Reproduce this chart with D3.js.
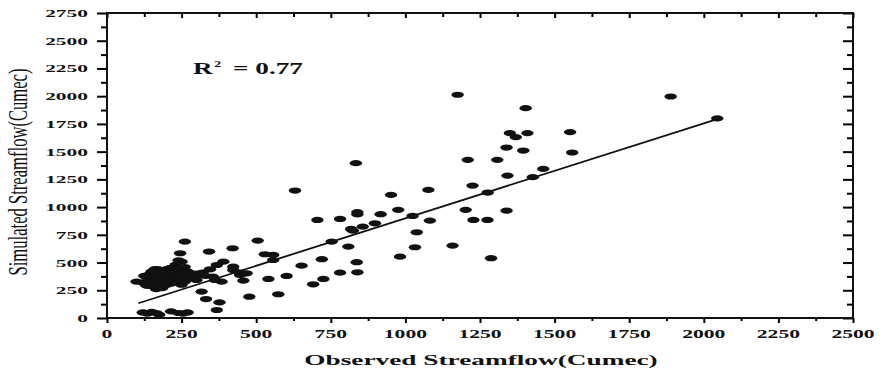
<!DOCTYPE html>
<html>
<head>
<meta charset="utf-8">
<script src="https://cdn.jsdelivr.net/npm/d3@7"></script>
<style>
  body { margin: 0; background: #fff; }
  svg { display: block; }
</style>
</head>
<body>
<div id="container"></div>
<script>
let w = 884;
let h = 373;

// observed (x) and simulated (y) streamflow
let observed = [
  1175, 1889, 2045, 1403, 1350, 1370, 1409, 1552, 1339, 1395, 1559, 1209, 1308, 1462, 1342,
  1427, 1225, 1276, 1077, 1202, 1339, 1228, 1275, 1082, 1158, 1287, 834, 630, 952, 976,
  705, 781, 839, 839, 917, 818, 824, 857, 898, 1024, 1038, 1032, 982, 505, 753,
  809, 529, 557, 557, 720, 652, 837, 541, 602, 725, 781, 839, 691, 477, 574,
  261, 421, 245, 342, 250, 390, 368, 345, 423, 446, 457, 446, 468, 384, 423,
  317, 332, 377, 368, 261, 300, 312, 355, 362, 99, 280, 295, 320, 330, 270,
  130, 140, 150, 160, 170, 180, 190, 200, 215, 230, 240, 150, 160, 170, 180,
  190, 200, 210, 220, 230, 240, 250, 175, 195, 205, 215, 230, 245, 255, 165,
  185, 120, 135, 145, 155, 170, 125,
  140, 150, 160, 165, 175, 185, 195, 205, 210, 225, 235, 145, 155, 165, 185,
  195, 200, 220, 240, 255, 260, 265, 135,
  120, 135, 150, 165, 175, 215, 240, 255, 270
];
let simulated = [
  2013, 1997, 1800, 1892, 1667, 1631, 1667, 1676, 1537, 1510, 1492, 1426, 1426, 1345, 1284,
  1270, 1194, 1131, 1155, 975, 968, 884, 884, 878, 653, 539, 1396, 1149, 1110, 975,
  884, 893, 955, 935, 936, 803, 788, 824, 854, 920, 773, 638, 553, 698, 689,
  644, 575, 569, 523, 530, 472, 503, 352, 379, 352, 409, 412, 304, 192, 214,
  689, 629, 584, 599, 508, 508, 478, 439, 433, 388, 337, 410, 403, 328, 463,
  238, 171, 141, 72, 328, 343, 388, 373, 343, 328, 360, 400, 410, 380, 420,
  300, 330, 350, 380, 400, 420, 430, 440, 450, 480, 520, 290, 310, 330, 350,
  370, 390, 380, 360, 340, 320, 300, 290, 300, 330, 310, 395, 410, 370, 260,
  270, 320, 360, 400, 420, 440, 380,
  380, 420, 440, 400, 370, 390, 410, 420, 450, 430, 460, 310, 330, 350, 330,
  350, 300, 330, 370, 430, 460, 400, 290,
  50, 40, 55, 45, 30, 60, 45, 40, 50
];

// fitted line: sim = slope * obs + intercept
let fitSlope = 0.856;
let fitIntercept = 43;
let fitRange = [105, 2045];
let r2Label = '0.77';

let xTicks = d3.range(0, 2501, 250);
let yTicks = d3.range(0, 2751, 250);
let xMinor = d3.range(125, 2500, 250);
let yMinor = d3.range(125, 2750, 250);

let points = observed.map((d, i) => ({ obs: d, sim: simulated[i] }));

let x = d3.scaleLinear().domain([0, 2500]).range([107, 853]);
let y = d3.scaleLinear().domain([0, 2750]).range([318, 13]);

let viz = d3.select('#container').append('svg')
    .attr('width', w)
    .attr('height', h)
;

// bottom ticks (outward)
viz.append('g')
    .attr('transform', 'translate(0,318)')
    .call(d3.axisBottom(x).tickValues(xTicks).tickSizeInner(5).tickSizeOuter(0).tickFormat(''))
    .call(g => g.select('.domain').remove())
    .selectAll('line').attr('stroke-width', 2);
viz.append('g')
    .attr('transform', 'translate(0,318)')
    .call(d3.axisBottom(x).tickValues(xMinor).tickSizeInner(3).tickSizeOuter(0).tickFormat(''))
    .call(g => g.select('.domain').remove())
    .selectAll('line').attr('stroke-width', 2);

// top ticks (inward)
viz.append('g')
    .attr('transform', 'translate(0,13)')
    .call(d3.axisBottom(x).tickValues(xTicks).tickSizeInner(5).tickSizeOuter(0).tickFormat(''))
    .call(g => g.select('.domain').remove())
    .selectAll('line').attr('stroke-width', 2);
viz.append('g')
    .attr('transform', 'translate(0,13)')
    .call(d3.axisBottom(x).tickValues(xMinor).tickSizeInner(4).tickSizeOuter(0).tickFormat(''))
    .call(g => g.select('.domain').remove())
    .selectAll('line').attr('stroke-width', 2);

// left ticks (outward)
viz.append('g')
    .attr('transform', 'translate(107,0)')
    .call(d3.axisLeft(y).tickValues(yTicks).tickSizeInner(10).tickSizeOuter(0).tickFormat(''))
    .call(g => g.select('.domain').remove())
    .selectAll('line').attr('stroke-width', 2);
viz.append('g')
    .attr('transform', 'translate(107,0)')
    .call(d3.axisLeft(y).tickValues(yMinor).tickSizeInner(6).tickSizeOuter(0).tickFormat(''))
    .call(g => g.select('.domain').remove())
    .selectAll('line').attr('stroke-width', 2);

// right ticks (inward)
viz.append('g')
    .attr('transform', 'translate(853,0)')
    .call(d3.axisRight(y).tickValues(yTicks).tickSizeInner(-10).tickSizeOuter(0).tickFormat(''))
    .call(g => g.select('.domain').remove())
    .selectAll('line').attr('stroke-width', 2);
viz.append('g')
    .attr('transform', 'translate(853,0)')
    .call(d3.axisRight(y).tickValues(yMinor).tickSizeInner(-6).tickSizeOuter(0).tickFormat(''))
    .call(g => g.select('.domain').remove())
    .selectAll('line').attr('stroke-width', 2);

// frame
viz.append('rect')
    .attr('x', x(0))
    .attr('y', y(2750))
    .attr('width', x(2500) - x(0))
    .attr('height', y(0) - y(2750))
    .attr('fill', 'none')
    .attr('stroke', '#111')
    .attr('stroke-width', 2)

// tick labels (the picture is stretched sideways)
viz.append('g').selectAll('text')
    .data(xTicks)
    .join('text')
    .text(d => d)
    .attr('transform', d => `translate(${x(d)},338) scale(1.8,1)`)
    .attr('text-anchor', 'middle')
    .attr('font-family', 'Liberation Serif')
    .attr('font-weight', 'bold')
    .attr('font-size', '12px')
    .attr('fill', '#111')

viz.append('g').selectAll('text')
    .data(yTicks)
    .join('text')
    .text(d => d)
    .attr('transform', d => `translate(88,${y(d) + 4}) scale(1.95,1)`)
    .attr('text-anchor', 'end')
    .attr('font-family', 'Liberation Serif')
    .attr('font-weight', 'bold')
    .attr('font-size', '11px')
    .attr('fill', '#111')

// axis titles
viz.append('text')
    .text('Observed Streamflow(Cumec)')
    .attr('transform', 'translate(481,365) scale(1.82,1)')
    .attr('text-anchor', 'middle')
    .attr('font-family', 'Liberation Serif')
    .attr('font-weight', 'bold')
    .attr('font-size', '15px')
    .attr('fill', '#111')

viz.append('text')
    .text('Simulated Streamflow(Cumec)')
    .attr('transform', 'translate(27,172) scale(1.8,1) rotate(-90)')
    .attr('text-anchor', 'middle')
    .attr('font-family', 'Liberation Serif')
    .attr('font-size', '15px')
    .attr('textLength', 207)
    .attr('lengthAdjust', 'spacingAndGlyphs')
    .attr('fill', '#111')

// R squared
let r2 = viz.append('text')
    .attr('transform', 'translate(193,74) scale(1.7,1)')
    .attr('font-family', 'Liberation Serif')
    .attr('font-weight', 'bold')
    .attr('font-size', '16px')
    .attr('fill', '#111')
r2.append('tspan').text('R')
r2.append('tspan').text('2').attr('font-size', '8px').attr('dy', -7).attr('dx', 1)
r2.append('tspan').text('= ' + r2Label).attr('dy', 7).attr('dx', 7)

// fitted line
viz.append('line')
    .attr('x1', x(fitRange[0]))
    .attr('y1', y(fitSlope * fitRange[0] + fitIntercept))
    .attr('x2', x(fitRange[1]))
    .attr('y2', y(fitSlope * fitRange[1] + fitIntercept))
    .attr('stroke', '#111')
    .attr('stroke-width', 1.8)

// points
viz.append('g').selectAll('ellipse')
    .data(points)
    .join('ellipse')
    .attr('cx', d => x(d.obs))
    .attr('cy', d => y(d.sim))
    .attr('rx', 6.2)
    .attr('ry', 3.1)
    .attr('fill', '#111')
</script>
</body>
</html>
